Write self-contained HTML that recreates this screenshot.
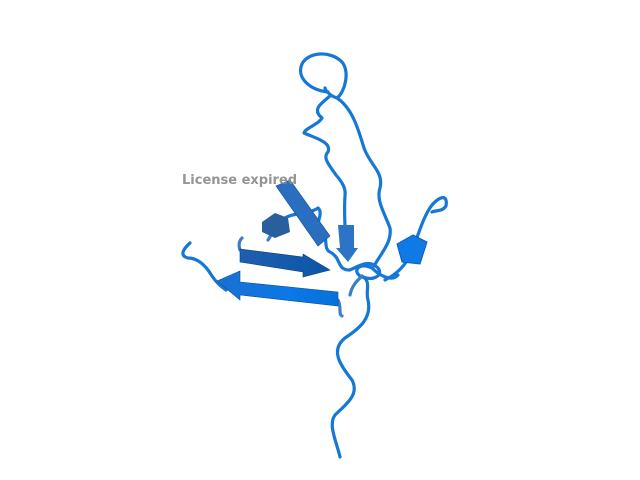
<!DOCTYPE html>
<html><head><meta charset="utf-8"><style>
html,body{margin:0;padding:0;background:#fff;}
svg{display:block;}
</style></head><body>
<svg width="640" height="480" viewBox="0 0 640 480">
<defs>
<linearGradient id="g1" x1="0" y1="0" x2="1" y2="0"><stop offset="0" stop-color="#1c6fcf"/><stop offset="0.6" stop-color="#0a78e8"/><stop offset="1" stop-color="#0a6fd8"/></linearGradient>
<linearGradient id="g2" x1="0" y1="0" x2="1" y2="0"><stop offset="0" stop-color="#1f5fae"/><stop offset="1" stop-color="#0c55a8"/></linearGradient>
</defs>
<g fill="none" stroke="#1577d6" stroke-width="3.2" stroke-linecap="round" stroke-linejoin="round">
<path d="M340,457 C336,440 328,425 335,415 C345,405 360,395 352,380 C340,365 330,350 345,338 C360,328 372,318 368,300 C365,290 372,282 362,276"/>
<path d="M328,92 C310,90 296,78 302,64 C308,52 330,50 342,62 C350,72 345,92 337,98 C330,96 325,90 325,88"/>
<path d="M337,98 C352,108 358,128 364,148 C370,165 384,172 380,188 C376,200 384,212 390,228 C392,242 382,252 374,266"/>
<path d="M330,96 C320,104 312,110 322,118 C318,125 305,128 304,133 C315,138 332,142 328,152 C322,158 330,166 336,175 C342,182 346,188 345,196 C344,210 345,222 345,228"/>
<path d="M385,280 C395,275 404,268 410,255 C418,238 422,218 432,205 C440,196 448,194 446,206 C442,212 436,210 432,212"/>
<path d="M285,218 C295,212 310,214 318,208 C325,214 312,228 320,232 C330,234 322,248 330,252 C342,258 336,270 350,270 C362,264 370,260 378,268 C384,276 372,282 360,276 C352,270 360,262 372,268 C380,276 392,282 398,275"/>
<path d="M190,243 C182,250 180,256 188,258 C198,258 206,266 212,276 C216,282 220,286 226,290"/>
<path stroke="#3a7fc8" d="M338,300 C342,308 338,314 342,316 M350,295 C352,285 358,280 362,276 M240,250 C238,244 240,240 242,238 M268,240 C272,234 276,226 280,218"/>
</g>
<polygon fill="url(#g1)" stroke="#0b4f99" stroke-width="0.6" points="217,281 240,271 240,282 338,292 338,306 240,295 240,300"/>
<polygon fill="url(#g2)" stroke="#0b3f80" stroke-width="0.6" points="240,249 303,257 303,254 330,270 303,277 303,272 240,262"/>
<polygon fill="#2a6fbf" stroke="#0b4f99" stroke-width="0.6" points="276,186 290,180 330,236 318,246"/>
<polygon fill="#2d74c6" points="338,225 354,225 354,248 358,248 348,262 336,248 340,248"/>
<polygon fill="#2a5f9e" points="262,222 275,213 288,218 290,232 275,238 262,232"/>
<polygon fill="#0f7ae6" stroke="#0b5fb8" stroke-width="1" points="397,244 413,235 427,242 420,264 402,262"/>
<text x="182" y="184" font-family="'DejaVu Sans','Liberation Sans',sans-serif" font-weight="bold" font-size="13" fill="#8a8a8a" fill-opacity="0.9">License expired</text>
</svg>
</body></html>
